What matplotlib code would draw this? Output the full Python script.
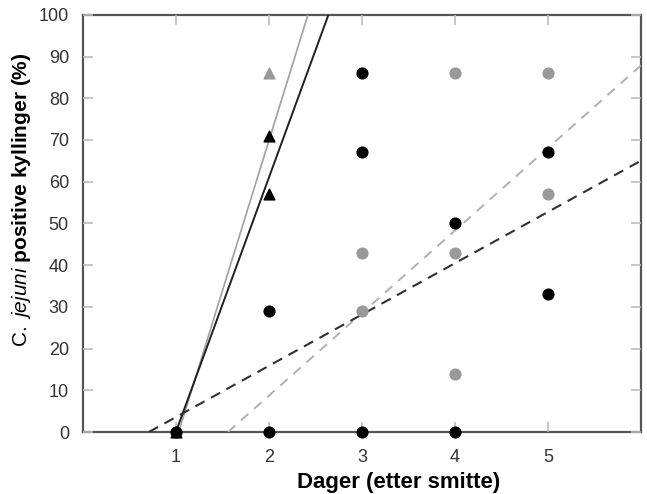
import numpy as np
import matplotlib
matplotlib.use("Agg")
import matplotlib.pyplot as plt

plt.rcParams["font.family"] = ["Liberation Sans", "DejaVu Sans"]
plt.rcParams["mathtext.fontset"] = "custom"
plt.rcParams["mathtext.rm"] = "Liberation Sans"
plt.rcParams["mathtext.it"] = "Liberation Sans:italic"
plt.rcParams["mathtext.bf"] = "Liberation Sans:bold"

# ------------------- data -------------------

# black circles
black_days = [1, 2, 2, 3, 3, 3, 4, 4, 5, 5]
black_pct = [0, 29, 0, 86, 67, 0, 50, 0, 67, 33]

# grey circles
grey_days = [3, 3, 4, 4, 4, 5, 5]
grey_pct = [43, 29, 86, 43, 14, 86, 57]

# triangles
black_tri_days = [1, 2, 2]
black_tri_pct = [0, 71, 57]
grey_tri_days = [2]
grey_tri_pct = [86]

# fitted lines: (slope, x where line crosses 0)
black_solid = (61.0, 1.00)
grey_solid = (72.0, 1.03)
black_dashed = (12.3, 0.71)
grey_dashed = (19.8, 1.56)

x_ticks = [1, 2, 3, 4, 5]
y_ticks = [0, 10, 20, 30, 40, 50, 60, 70, 80, 90, 100]


def fit_line(params, x_end=6.0):
    slope, x0 = params
    xs = np.linspace(x0, x_end, 200)
    return xs, slope * (xs - x0)


# ------------------- plotting -------------------

fig = plt.figure(figsize=(6.47, 4.94), dpi=100)
ax = fig.add_axes([0.128, 0.1255, 0.863, 0.8445])

xs, ys = fit_line(grey_solid)
ax.plot(xs, ys, color="#a0a0a0", lw=1.2, zorder=2)
xs, ys = fit_line(black_solid)
ax.plot(xs, ys, color="#202020", lw=1.4, zorder=2)
xs, ys = fit_line(grey_dashed)
ax.plot(xs, ys, color="#b0b0b0", lw=1.4, dashes=(5, 4), zorder=2)
xs, ys = fit_line(black_dashed)
ax.plot(xs, ys, color="#303030", lw=1.5, dashes=(5, 3.5), zorder=2)

ax.scatter(grey_days, grey_pct, s=60, color="#999999", zorder=3, clip_on=False)
ax.scatter(black_days, black_pct, s=60, color="black", zorder=4, clip_on=False)
ax.scatter(grey_tri_days, grey_tri_pct, s=60, marker="^", color="#999999",
           zorder=3, clip_on=False)
ax.scatter(black_tri_days, black_tri_pct, s=60, marker="^", color="black",
           zorder=4, clip_on=False)

ax.set_xlim(0, 6)
ax.set_ylim(0, 100)
ax.set_xticks(x_ticks)
ax.set_yticks(y_ticks)

for side, sp in ax.spines.items():
    sp.set_color("#555555")
    sp.set_linewidth(1.6)
    sp.set_zorder(1)

ax.tick_params(direction="in", length=7, width=1.2, color="#bbbbbb",
               top=True, right=True, labelsize=13, labelcolor="#333333")
ax.tick_params(axis="x", pad=12)
ax.tick_params(axis="y", pad=10)

ax.set_xlabel("Dager (etter smitte)", fontsize=16, fontweight="bold")
ax.xaxis.set_label_coords(0.566, -0.095)
ax.set_ylabel(r"$\mathrm{C.}\ \mathit{jejuni}$ $\mathbf{positive\ kyllinger\ (\%)}$",
              fontsize=15)
ax.yaxis.set_label_coords(-0.09, 0.556)

fig.savefig("out.png", dpi=100)
